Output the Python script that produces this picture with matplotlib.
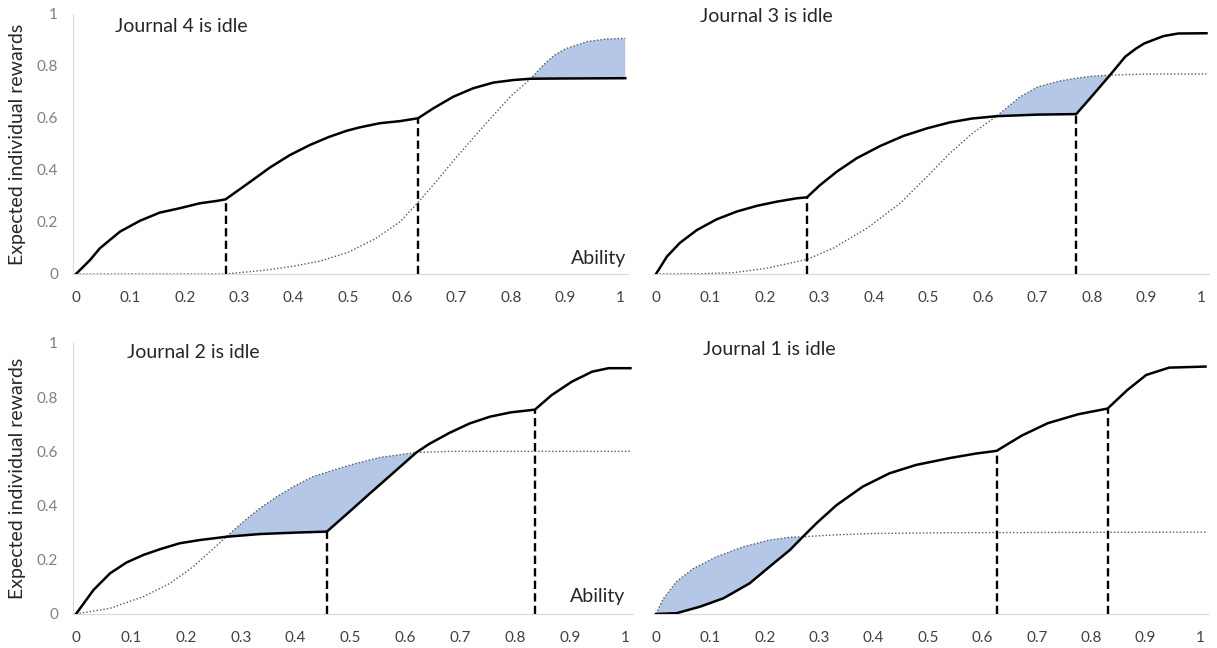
import numpy as np
import matplotlib
matplotlib.use("Agg")
import matplotlib.pyplot as plt

plt.rcParams['font.family'] = ['Lato', 'DejaVu Sans']

# Journal 4 is idle (top left)
j4_solid_x = [0, 0.026, 0.044, 0.081, 0.118, 0.154, 0.191, 0.228, 0.259, 0.275, 0.314, 0.357,
              0.393, 0.43, 0.465, 0.498, 0.522, 0.559, 0.596, 0.629, 0.657, 0.694, 0.73, 0.767,
              0.804, 0.836, 0.9, 1.01]
j4_solid_y = [0, 0.054, 0.099, 0.163, 0.205, 0.236, 0.253, 0.272, 0.281, 0.287, 0.345, 0.41,
              0.457, 0.496, 0.527, 0.551, 0.564, 0.58, 0.588, 0.599, 0.637, 0.682, 0.714, 0.736,
              0.746, 0.751, 0.752, 0.753]
j4_dot_x = [0, 0.275, 0.3, 0.35, 0.4, 0.45, 0.5, 0.55, 0.596, 0.629, 0.66, 0.7, 0.75, 0.8,
            0.836, 0.86, 0.88, 0.9, 0.94, 0.976, 1.01]
j4_dot_y = [0, 0, 0.005, 0.015, 0.03, 0.05, 0.083, 0.135, 0.201, 0.275, 0.35, 0.45, 0.57,
            0.685, 0.751, 0.805, 0.842, 0.866, 0.894, 0.904, 0.906]
j4_kinks = [0.275, 0.629]
j4_kink_y = [0.287, 0.599]
j4_fill = (0.836, 1.01)

# Journal 3 is idle (top right)
j3_solid_x = [0, 0.02, 0.044, 0.075, 0.111, 0.148, 0.185, 0.221, 0.258, 0.277, 0.301, 0.332,
              0.368, 0.411, 0.454, 0.497, 0.539, 0.58, 0.625, 0.701, 0.771, 0.799, 0.833,
              0.861, 0.88, 0.896, 0.931, 0.958, 1.01]
j3_solid_y = [0, 0.067, 0.12, 0.169, 0.21, 0.24, 0.262, 0.278, 0.291, 0.295, 0.342, 0.394,
              0.445, 0.492, 0.531, 0.56, 0.583, 0.598, 0.607, 0.613, 0.615, 0.682, 0.765,
              0.836, 0.866, 0.887, 0.915, 0.925, 0.926]
j3_dot_x = [0, 0.08, 0.142, 0.203, 0.277, 0.325, 0.387, 0.448, 0.497, 0.539, 0.58, 0.625,
            0.667, 0.701, 0.74, 0.771, 0.8, 0.833, 0.9, 1.01]
j3_dot_y = [0, 0.001, 0.005, 0.022, 0.056, 0.099, 0.176, 0.272, 0.374, 0.464, 0.54, 0.607,
            0.68, 0.72, 0.742, 0.753, 0.761, 0.765, 0.769, 0.769]
j3_kinks = [0.277, 0.771]
j3_kink_y = [0.295, 0.615]
j3_fill = (0.625, 0.833)

# Journal 2 is idle (bottom left)
j2_solid_x = [0, 0.032, 0.062, 0.092, 0.123, 0.153, 0.189, 0.226, 0.274, 0.335, 0.396, 0.457,
              0.494, 0.531, 0.568, 0.606, 0.62, 0.643, 0.68, 0.717, 0.754, 0.792, 0.836,
              0.866, 0.903, 0.94, 0.97, 1.01]
j2_solid_y = [0, 0.089, 0.15, 0.19, 0.218, 0.239, 0.261, 0.273, 0.285, 0.295, 0.3, 0.304,
              0.37, 0.437, 0.503, 0.571, 0.596, 0.627, 0.668, 0.703, 0.728, 0.744, 0.754,
              0.807, 0.857, 0.894, 0.907, 0.907]
j2_dot_x = [0, 0.062, 0.123, 0.171, 0.214, 0.244, 0.274, 0.305, 0.335, 0.366, 0.396, 0.432,
            0.469, 0.505, 0.554, 0.62, 0.68, 1.01]
j2_dot_y = [0, 0.021, 0.064, 0.113, 0.175, 0.23, 0.285, 0.341, 0.39, 0.433, 0.47, 0.507,
            0.531, 0.553, 0.578, 0.596, 0.6, 0.6]
j2_kinks = [0.457, 0.836]
j2_kink_y = [0.304, 0.754]
j2_fill = (0.274, 0.62)

# Journal 1 is idle (bottom right)
j1_solid_x = [0, 0.038, 0.081, 0.124, 0.172, 0.209, 0.246, 0.27, 0.295, 0.332, 0.38, 0.429,
              0.478, 0.539, 0.588, 0.626, 0.672, 0.72, 0.776, 0.83, 0.866, 0.901, 0.943, 1.01]
j1_solid_y = [0, 0.003, 0.027, 0.058, 0.113, 0.175, 0.236, 0.285, 0.335, 0.402, 0.47, 0.519,
              0.55, 0.575, 0.592, 0.602, 0.658, 0.704, 0.737, 0.758, 0.826, 0.882, 0.909, 0.913]
j1_dot_x = [0, 0.013, 0.038, 0.068, 0.111, 0.16, 0.209, 0.246, 0.27, 0.33, 0.4, 0.539, 1.01]
j1_dot_y = [0, 0.055, 0.12, 0.167, 0.211, 0.248, 0.273, 0.283, 0.285, 0.292, 0.297, 0.3, 0.302]
j1_kinks = [0.626, 0.83]
j1_kink_y = [0.602, 0.758]
j1_fill = (0, 0.27)

x_ticks = [0, 0.1, 0.2, 0.3, 0.4, 0.5, 0.6, 0.7, 0.8, 0.9, 1]
x_labels = ['0', '0.1', '0.2', '0.3', '0.4', '0.5', '0.6', '0.7', '0.8', '0.9', '1']
y_ticks = [0, 0.2, 0.4, 0.6, 0.8, 1]
y_labels = ['0', '0.2', '0.4', '0.6', '0.8', '1']

fig = plt.figure(figsize=(12.17, 6.48), dpi=100)


def draw_panel(rect, sx, sy, dx, dy, kinks, kink_y, fill, title, title_xy,
               left_axis, ability_xy):
    ax = fig.add_axes(rect)
    sx, sy, dx, dy = map(np.array, (sx, sy, dx, dy))
    m_d = (dx >= fill[0]) & (dx <= fill[1])
    m_s = (sx >= fill[0]) & (sx <= fill[1])
    ax.fill(np.r_[dx[m_d], sx[m_s][::-1]], np.r_[dy[m_d], sy[m_s][::-1]],
            color='#b4c7e7', lw=0, zorder=1)
    ax.plot(dx, dy, color='#595959', lw=1.0, ls=(0, (1, 1.5)), zorder=2)
    ax.plot(sx, sy, color='black', lw=1.8, zorder=3, solid_joinstyle='round')
    for kx, ky in zip(kinks, kink_y):
        ax.plot([kx, kx], [0, ky], color='black', lw=1.7, ls=(0, (3.5, 1.8)), zorder=4)

    ax.set_xlim(-0.005, 1.015)
    ax.set_ylim(0, 1)
    ax.set_xticks(x_ticks)
    ax.set_xticklabels(x_labels)
    ax.tick_params(axis='x', length=0, pad=12, labelsize=11, labelcolor='#404040')
    for s in ['top', 'right']:
        ax.spines[s].set_visible(False)
    ax.spines['bottom'].set_color('#d9d9d9')
    if left_axis:
        ax.spines['left'].set_color('#d9d9d9')
        ax.set_yticks(y_ticks)
        ax.set_yticklabels(y_labels)
        ax.tick_params(axis='y', length=0, pad=11, labelsize=11, labelcolor='#7f7f7f')
        ax.set_ylabel('Expected individual rewards', fontsize=14, color='#262626')
        ax.yaxis.set_label_coords(-0.085, 0.5)
    else:
        ax.spines['left'].set_visible(False)
        ax.set_yticks([])
    ax.text(title_xy[0], title_xy[1], title, fontsize=14, color='#262626',
            ha='left', va='baseline')
    if ability_xy is not None:
        ax.text(ability_xy[0], ability_xy[1], 'Ability', fontsize=14, color='#262626',
                ha='right', va='baseline')
    return ax


draw_panel([0.0602, 0.5772, 0.4558, 0.4012], j4_solid_x, j4_solid_y, j4_dot_x, j4_dot_y,
           j4_kinks, j4_kink_y, j4_fill, 'Journal 4 is idle', (0.072, 0.931), True,
           (1.011, 0.038))
draw_panel([0.5368, 0.5772, 0.4568, 0.4012], j3_solid_x, j3_solid_y, j3_dot_x, j3_dot_y,
           j3_kinks, j3_kink_y, j3_fill, 'Journal 3 is idle', (0.08, 0.97), False, None)
draw_panel([0.0602, 0.0525, 0.4601, 0.4182], j2_solid_x, j2_solid_y, j2_dot_x, j2_dot_y,
           j2_kinks, j2_kink_y, j2_fill, 'Journal 2 is idle', (0.092, 0.943), True,
           (1.0, 0.043))
draw_panel([0.5368, 0.0525, 0.456, 0.4182], j1_solid_x, j1_solid_y, j1_dot_x, j1_dot_y,
           j1_kinks, j1_kink_y, j1_fill, 'Journal 1 is idle', (0.087, 0.956), False, None)

fig.savefig('out.png', dpi=100)
